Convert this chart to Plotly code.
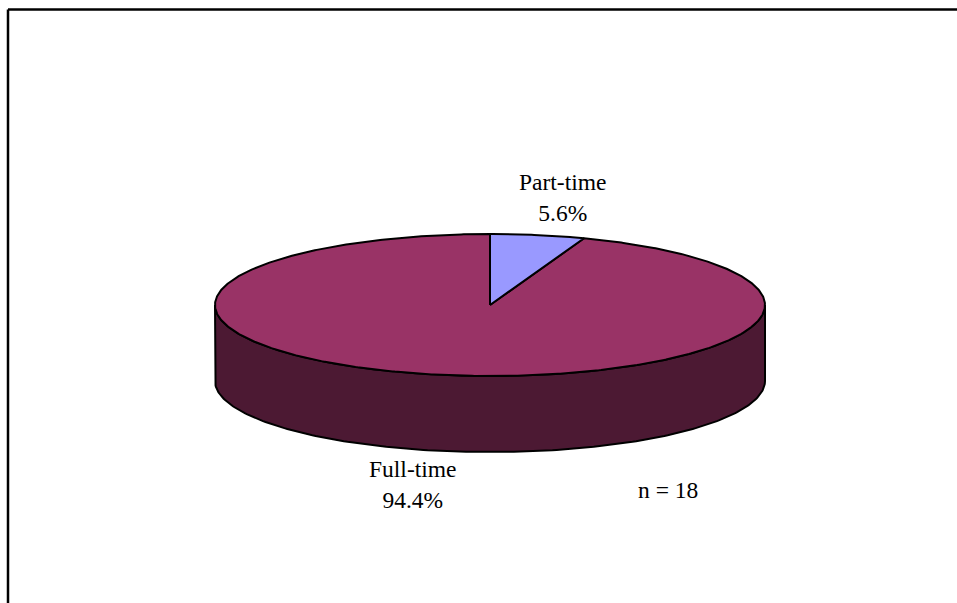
import numpy as np
import plotly.graph_objects as go

# Employment status of respondents
categories = ["Full-time", "Part-time"]
counts = [17, 1]
colors = ["#993366", "#9999FF"]
side_color = "#4C1933"

W, H = 957, 603
n_total = sum(counts)
shares = [c / n_total for c in counts]

# Pie geometry (pixel space)
cx, cy = 490.0, 305.0
rx, ry = 275.0, 71.0
depth = 76.0


def arc(a0, a1, dy=0.0, n=200):
    """Points on the ellipse, angles in degrees clockwise from 12 o'clock."""
    t = np.radians(np.linspace(a0, a1, n))
    return cx + rx * np.sin(t), cy - ry * np.cos(t) + dy


fig = go.Figure()

# Front wall of the cylinder (visible from 3 o'clock to 9 o'clock)
xt, yt = arc(90, 270)
xb, yb = arc(270, 90, dy=depth)
fig.add_trace(go.Scatter(
    x=np.concatenate([xt, xb, xt[:1]]), y=np.concatenate([yt, yb, yt[:1]]),
    mode="lines", fill="toself", fillcolor=side_color,
    line=dict(color="black", width=2), hoverinfo="skip", showlegend=False))

# Slices: Part-time starts at 12 o'clock, going clockwise; Full-time follows
order = [1, 0]
start = 0.0
angles = {}
for i in order:
    sweep = shares[i] * 360.0
    angles[i] = (start, start + sweep)
    start += sweep

for i in [0, 1]:
    a0, a1 = angles[i]
    xs, ys = arc(a0, a1, n=max(int((a1 - a0) * 2), 10))
    fig.add_trace(go.Scatter(
        x=np.concatenate([[cx], xs, [cx]]), y=np.concatenate([[cy], ys, [cy]]),
        mode="lines", fill="toself", fillcolor=colors[i],
        line=dict(color="black", width=2), name=categories[i],
        hoverinfo="name", showlegend=False))

# Data labels
label_pos = {0: (412, 484), 1: (562, 197)}
font = dict(family="Liberation Serif, Times New Roman, serif", size=23.5, color="black")
for i, (lx, ly) in label_pos.items():
    fig.add_annotation(x=lx, y=ly, xref="x", yref="y", showarrow=False,
                       text=f"{categories[i]}<br>{shares[i] * 100:.1f}%",
                       font=font, align="center")

fig.add_annotation(x=668, y=490, xref="x", yref="y", showarrow=False,
                   text=f"n = {n_total}", font=font)

# Chart frame (top and left edges)
fig.add_shape(type="line", x0=8, x1=W, y0=9.5, y1=9.5, xref="x", yref="y",
              line=dict(color="black", width=2.5))
fig.add_shape(type="line", x0=8, x1=8, y0=9.5, y1=H, xref="x", yref="y",
              line=dict(color="black", width=2.5))

fig.update_layout(
    width=W, height=H, margin=dict(l=0, r=0, t=0, b=0),
    paper_bgcolor="white", plot_bgcolor="white",
    xaxis=dict(range=[0, W], visible=False, fixedrange=True),
    yaxis=dict(range=[H, 0], visible=False, fixedrange=True),
)

fig.write_html("out.html")
